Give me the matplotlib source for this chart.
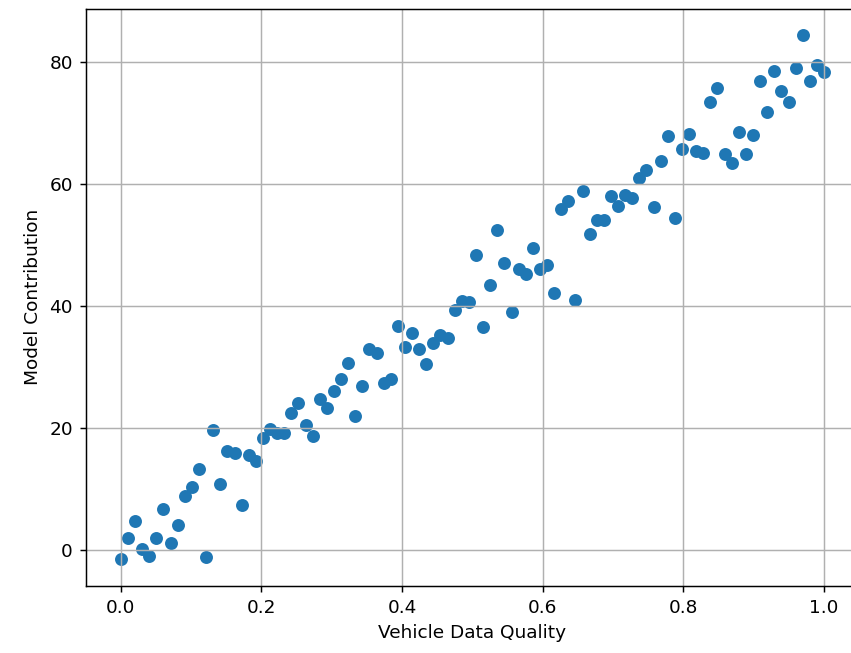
import numpy as np
import matplotlib
matplotlib.use("Agg")
import matplotlib.pyplot as plt

quality = np.linspace(0, 1, 100)
contribution = [
    -1.5, 2.0, 4.8, 0.2, -1.0, 2.0, 6.7, 1.2, 4.1, 8.9,
    10.3, 13.4, -1.1, 19.7, 10.8, 16.2, 15.9, 7.5, 15.7, 14.6,
    18.4, 19.8, 19.3, 19.2, 22.5, 24.1, 20.5, 18.7, 24.8, 23.3,
    26.1, 28.0, 30.7, 22.0, 26.9, 33.0, 32.3, 27.4, 28.0, 36.7,
    33.3, 35.6, 33.0, 30.5, 33.9, 35.2, 34.8, 39.3, 40.8, 40.7,
    48.4, 36.6, 43.4, 52.5, 47.0, 39.0, 46.1, 45.2, 49.5, 46.1,
    46.7, 42.1, 55.9, 57.2, 41.0, 58.9, 51.8, 54.1, 54.1, 58.0,
    56.4, 58.2, 57.7, 61.0, 62.3, 56.2, 63.8, 67.9, 54.4, 65.7,
    68.2, 65.4, 65.1, 73.4, 75.7, 64.9, 63.4, 68.5, 64.9, 68.0,
    76.9, 71.9, 78.5, 75.2, 73.4, 79.0, 84.4, 76.9, 79.5, 78.4,
]

dpi = 133
fig = plt.figure(figsize=(851 / dpi, 653 / dpi), dpi=dpi)
# the reference is cropped on the right, axes runs past the image edge
ax = fig.add_axes([85.7 / 851, 1 - 585.7 / 653, 773.5 / 851, 576.7 / 653])
ax.scatter(quality, contribution)
ax.set_xlabel("Vehicle Data Quality")
ax.set_ylabel("Model Contribution")
ax.grid(True)
ax.spines['right'].set_visible(False)
fig.savefig("out.png", dpi=dpi)
